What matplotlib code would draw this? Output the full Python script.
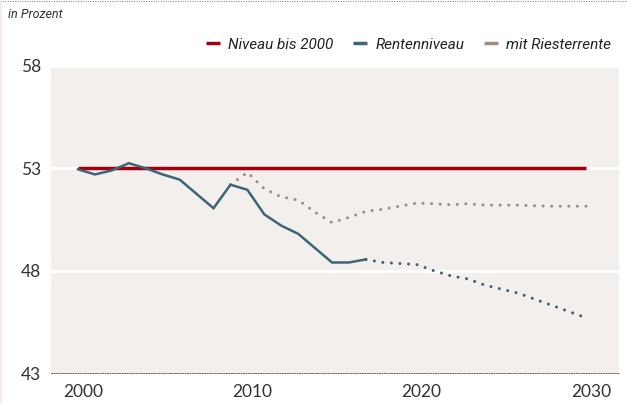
import matplotlib.pyplot as plt
import matplotlib.transforms as mtransforms
from matplotlib.lines import Line2D

# Rentenniveau vor Steuern, in Prozent
jahre_ist = [2000, 2001, 2002, 2003, 2004, 2005, 2006, 2007, 2008, 2009,
             2010, 2011, 2012, 2013, 2014, 2015, 2016, 2017]
rente_ist = [52.95, 52.7, 52.9, 53.25, 53.0, 52.7, 52.45, 51.75, 51.05, 52.2,
             51.95, 50.75, 50.2, 49.8, 49.1, 48.4, 48.4, 48.55]

jahre_prognose = [2017, 2018, 2019, 2020, 2021, 2022, 2023, 2024, 2025,
                  2026, 2027, 2028, 2029, 2030]
rente_prognose = [48.55, 48.4, 48.35, 48.3, 48.0, 47.75, 47.6, 47.3, 47.1,
                  46.9, 46.6, 46.3, 46.0, 45.7]

jahre_riester = [2009, 2010, 2011, 2012, 2013, 2014, 2015, 2016, 2017, 2018,
                 2019, 2020, 2021, 2022, 2023, 2024, 2025, 2026, 2027, 2028,
                 2029, 2030]
riester = [52.2, 52.8, 52.0, 51.6, 51.45, 50.85, 50.35, 50.6, 50.9, 51.0,
           51.15, 51.3, 51.27, 51.22, 51.27, 51.2, 51.2, 51.2, 51.17, 51.15,
           51.15, 51.15]

jahre_niveau = [2000, 2030]
niveau = [53, 53]

y_ticks = [43, 48, 53, 58]
x_ticks = [2000, 2010, 2020, 2030]
legende = ['Niveau bis 2000', 'Rentenniveau', 'mit Riesterrente']

rot = '#a3000f'
blau = '#3e6577'
braun = '#a68a80'
hintergrund = '#f2efec'

zahl_font = ['Lato', 'DejaVu Sans']
text_font = ['Roboto', 'DejaVu Sans']

fig = plt.figure(figsize=(6.27, 4.04), dpi=100)
ax = fig.add_axes([0.0813, 0.0767, 0.906, 0.760])
ax.set_facecolor(hintergrund)

punkte = (0, (0.01, 2.8))

for y in y_ticks[1:]:
    ax.axhline(y, color='white', lw=2.2, zorder=1)

ax.plot(jahre_riester, riester, color=braun, lw=2.2, linestyle=punkte,
        dash_capstyle='round', zorder=2)
ax.plot(jahre_prognose, rente_prognose, color=blau, lw=2.2, linestyle=punkte,
        dash_capstyle='round', zorder=2)
ax.plot(jahre_niveau, niveau, color=rot, lw=2.5, solid_capstyle='butt', zorder=3)
ax.plot(jahre_ist, rente_ist, color=blau, lw=1.8, solid_joinstyle='miter', zorder=4)

ax.set_xlim(1998.4, 2031.95)
ax.set_ylim(43, 58)
ax.set_xticks(x_ticks)
ax.set_yticks(y_ticks)
ax.tick_params(length=0, labelsize=12.5, labelcolor='#333333')
ax.tick_params(axis='x', pad=8)
ax.tick_params(axis='y', pad=7)
versatz = mtransforms.ScaledTranslation(0.05, 0, fig.dpi_scale_trans)
for lab in ax.get_xticklabels():
    lab.set_family(zahl_font)
    lab.set_transform(lab.get_transform() + versatz)
for lab in ax.get_yticklabels():
    lab.set_family(zahl_font)

for s in ['top', 'right', 'left']:
    ax.spines[s].set_visible(False)
ax.spines['bottom'].set_linestyle((0, (1, 1.5)))
ax.spines['bottom'].set_color('#666666')
ax.spines['bottom'].set_linewidth(0.7)

handles = [Line2D([], [], color=c, lw=2.5, solid_capstyle='butt')
           for c in (rot, blau, braun)]
leg = fig.legend(handles, legende, ncol=3, frameon=False,
                 loc='center right', bbox_to_anchor=(0.997, 0.889),
                 handlelength=0.9, handletextpad=0.55, columnspacing=1.3,
                 prop={'family': text_font, 'style': 'italic', 'size': 11})
for t in leg.get_texts():
    t.set_color('#222222')

fig.text(0.013, 0.963, 'in Prozent', family=text_font, style='italic',
         fontsize=9, color='#333333', va='center')

# gepunktete Linie oben und schmaler Rand links
fig.add_artist(Line2D([0, 1], [0.997, 0.997], color='#777777', lw=0.7,
                      linestyle=(0, (1, 1.5))))
fig.add_artist(Line2D([0.001, 0.001], [0, 1], color='#fbe6e6', lw=1.2))

fig.savefig('out.png', dpi=100)
